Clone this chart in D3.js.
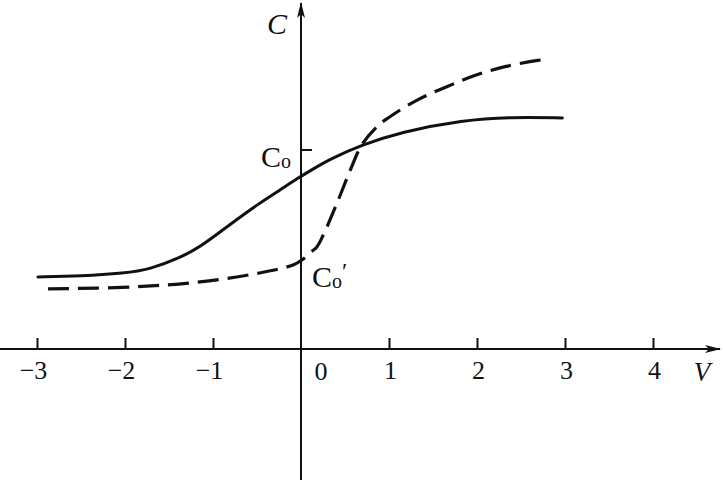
<!DOCTYPE html>
<html><head><meta charset="utf-8">
<script src="https://cdn.jsdelivr.net/npm/d3@7"></script>
<style>body{margin:0;background:#fff}svg{display:block}text{font-family:"Liberation Serif","DejaVu Serif",serif;fill:#111}</style>
</head><body><svg id="c" width="723" height="480"></svg>
<script>
const xTicks = [-3, -2, -1, 1, 2, 3, 4];
const solidV = [-2.99, -2.5, -2.0, -1.72, -1.375, -1.148, -0.92, -0.693, -0.466, -0.239, -0.034, 0.102, 0.33, 0.69, 1.13, 1.84, 2.41, 2.97];
const solidC = [0.362, 0.366, 0.381, 0.400, 0.458, 0.513, 0.588, 0.663, 0.734, 0.799, 0.859, 0.895, 0.955, 1.025, 1.090, 1.151, 1.166, 1.161];
const dashV = [-2.875, -1.91, -1.15, -0.47, -0.09, 0.01, 0.10, 0.18, 0.25, 0.41, 0.56, 0.69, 0.86, 0.99, 1.32, 1.65, 1.99, 2.33, 2.69, 2.81];
const dashC = [0.302, 0.312, 0.337, 0.382, 0.422, 0.447, 0.482, 0.513, 0.570, 0.734, 0.899, 1.025, 1.116, 1.161, 1.251, 1.317, 1.377, 1.420, 1.450, 1.457];
const c0Value = 1;

const svg = d3.select("#c");
const x = d3.scaleLinear().domain([-3, 4]).range([37, 653]);
const y = d3.scaleLinear().domain([0, 1]).range([349, 150]);
const x0 = x(0), y0 = y(0);

const defs = svg.append("defs");
defs.append("marker").attr("id", "arr").attr("viewBox", "0 0 16 8")
  .attr("refX", 15).attr("refY", 4).attr("markerWidth", 16).attr("markerHeight", 8)
  .attr("markerUnits", "userSpaceOnUse").attr("orient", "auto")
  .append("path").attr("d", "M0,0 L16,4 L0,8 L4,4 Z").attr("fill", "#111");

svg.append("line").attr("x1", 0).attr("x2", 720).attr("y1", y0).attr("y2", y0)
  .attr("stroke", "#111").attr("stroke-width", 2).attr("marker-end", "url(#arr)");
svg.append("line").attr("x1", x0).attr("x2", x0).attr("y1", 480).attr("y2", 3)
  .attr("stroke", "#111").attr("stroke-width", 2).attr("marker-end", "url(#arr)");

const xAxis = d3.axisBottom(x).tickValues(xTicks).tickSizeInner(-11).tickSizeOuter(0).tickPadding(12)
  .tickFormat(d3.format("d"));
const gx = svg.append("g").attr("transform", `translate(0,${y0})`).call(xAxis);
gx.select(".domain").remove();
gx.selectAll(".tick line").attr("stroke", "#111").attr("stroke-width", 2);
gx.selectAll(".tick text").attr("font-size", 26).attr("font-family", "Liberation Serif, serif")
  .attr("fill", "#111").attr("dx", d => d < 0 ? -4 : 1);
svg.append("text").attr("x", x0 + 20).attr("y", 380).attr("text-anchor", "middle")
  .attr("font-size", 26).text("0");
svg.append("text").attr("x", 702).attr("y", 381).attr("text-anchor", "middle")
  .attr("font-size", 27).attr("font-style", "italic").text("V");

svg.append("text").attr("x", 277).attr("y", 34).attr("text-anchor", "middle")
  .attr("font-size", 30).attr("font-style", "italic").text("C");
svg.append("line").attr("x1", x0).attr("x2", x0 + 11).attr("y1", y(c0Value)).attr("y2", y(c0Value))
  .attr("stroke", "#111").attr("stroke-width", 2);
const t1 = svg.append("text").attr("x", 261).attr("y", 167).attr("font-size", 30);
t1.append("tspan").text("C");
t1.append("tspan").attr("font-size", 20).attr("dy", 1).text("o");
const t2 = svg.append("text").attr("x", 312).attr("y", 287).attr("font-size", 30);
t2.append("tspan").text("C");
t2.append("tspan").attr("font-size", 20).attr("dy", 1).text("o");
t2.append("tspan").attr("font-size", 24).attr("dy", -9).text("′");

const solidLine = d3.line().x(d => x(d[0])).y(d => y(d[1])).curve(d3.curveBasis);
const dashLine = d3.line().x(d => x(d[0])).y(d => y(d[1])).curve(d3.curveCatmullRom.alpha(0.5));
svg.append("path").datum(solidV.map((v, i) => [v, solidC[i]])).attr("d", solidLine)
  .attr("fill", "none").attr("stroke", "#111").attr("stroke-width", 3).attr("stroke-linecap", "round");
svg.append("path").datum(dashV.map((v, i) => [v, dashC[i]])).attr("d", dashLine)
  .attr("fill", "none").attr("stroke", "#111").attr("stroke-width", 3.2).attr("stroke-dasharray", "21,9");
</script></body></html>
